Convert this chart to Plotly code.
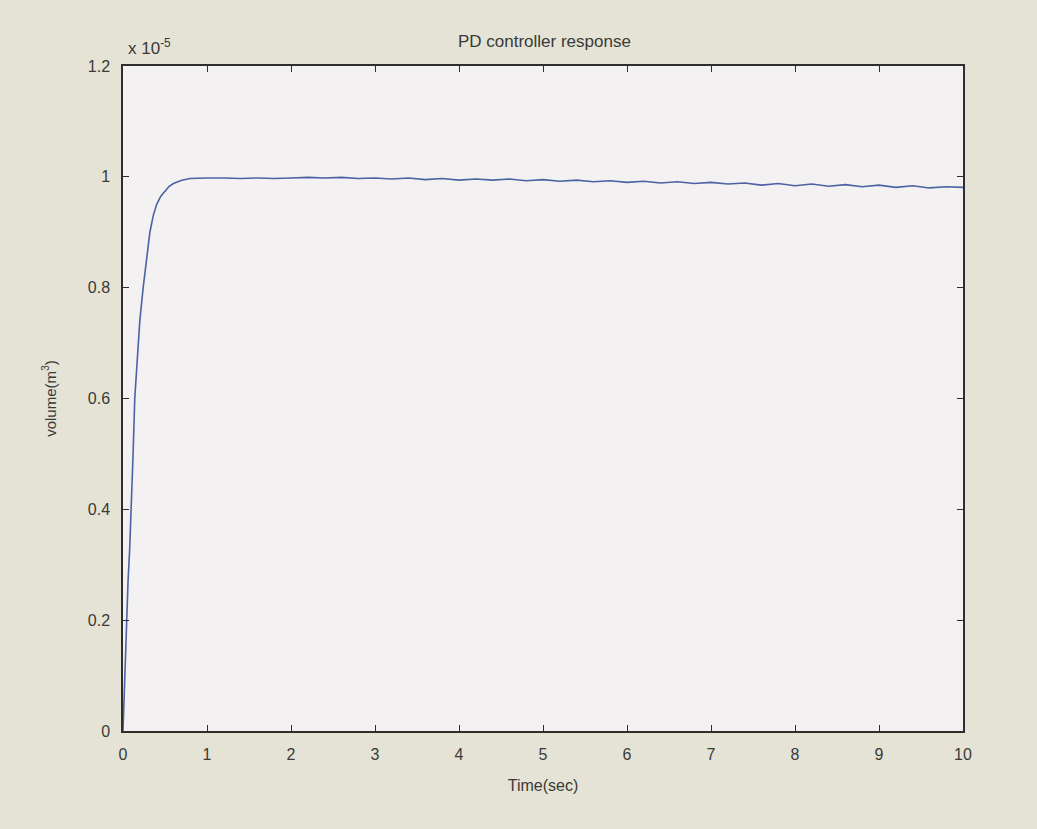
import plotly.graph_objects as go

# Time (sec)
time_sec = [0, 0.02, 0.04, 0.06, 0.08, 0.1, 0.12, 0.14, 0.17, 0.2, 0.24, 0.28,
            0.32, 0.36, 0.4, 0.45, 0.5, 0.55, 0.6, 0.7, 0.8, 0.9, 1.0,
            1.2, 1.4, 1.6, 1.8, 2.0, 2.2, 2.4, 2.6, 2.8, 3.0, 3.2, 3.4, 3.6, 3.8,
            4.0, 4.2, 4.4, 4.6, 4.8, 5.0, 5.2, 5.4, 5.6, 5.8, 6.0, 6.2, 6.4, 6.6,
            6.8, 7.0, 7.2, 7.4, 7.6, 7.8, 8.0, 8.2, 8.4, 8.6, 8.8, 9.0, 9.2, 9.4,
            9.6, 9.8, 10.0]
# Volume in units of 1e-5 m^3
volume_e5 = [0, 0.1, 0.2, 0.27, 0.33, 0.4, 0.5, 0.6, 0.68, 0.74, 0.8, 0.85,
             0.9, 0.93, 0.95, 0.965, 0.975, 0.983, 0.988, 0.994, 0.997, 0.998, 0.998,
             0.998, 0.997, 0.998, 0.997, 0.998, 0.999, 0.998, 0.999, 0.997, 0.998, 0.996, 0.998, 0.995, 0.997,
             0.994, 0.996, 0.994, 0.996, 0.993, 0.995, 0.992, 0.994, 0.991, 0.993, 0.990, 0.992, 0.989, 0.991,
             0.988, 0.990, 0.987, 0.989, 0.985, 0.988, 0.984, 0.987, 0.983, 0.986, 0.982, 0.985, 0.981, 0.984,
             0.980, 0.982, 0.981]

x_ticks = [0, 1, 2, 3, 4, 5, 6, 7, 8, 9, 10]
y_ticks = [0, 0.2, 0.4, 0.6, 0.8, 1.0, 1.2]
y_tick_text = ["0", "0.2", "0.4", "0.6", "0.8", "1", "1.2"]

FONT = "Liberation Sans, Arial, sans-serif"
TXT = "#3a3a38"

fig = go.Figure()
fig.add_trace(go.Scatter(x=time_sec, y=volume_e5, mode="lines",
                         line=dict(color="#4c63a3", width=1.6), showlegend=False))

axis_common = dict(showline=True, linecolor="#2e2e2e", linewidth=1.5, mirror="ticks",
                   ticks="inside", ticklen=6, tickwidth=1.2, tickcolor="#2e2e2e",
                   showgrid=False, zeroline=False,
                   tickfont=dict(family=FONT, size=16, color=TXT))

fig.update_layout(
    width=1037, height=829,
    margin=dict(l=123, r=74, t=66, b=98),
    paper_bgcolor="#e4e3d5",
    plot_bgcolor="#f3f1f1",
    title=dict(text="PD controller response", x=0.525, xanchor="center", y=0.95, yanchor="middle",
               font=dict(family=FONT, size=17, color=TXT)),
    xaxis=dict(range=[0, 10], tickvals=x_ticks, ticklabelstandoff=8,
               title=dict(text="Time(sec)", font=dict(family=FONT, size=16, color=TXT), standoff=18),
               **axis_common),
    yaxis=dict(range=[0, 1.2], tickvals=y_ticks, ticktext=y_tick_text, ticklabelstandoff=8,
               title=dict(text="volume(m<sup>3</sup>)", font=dict(family=FONT, size=15, color=TXT), standoff=28),
               **axis_common),
)

fig.add_annotation(text="x 10<sup>-5</sup>", xref="paper", yref="paper", x=0.0, y=1.0,
                   xanchor="left", yanchor="bottom", showarrow=False, xshift=3, yshift=6,
                   font=dict(family=FONT, size=17, color=TXT))

fig.write_html("out.html")
